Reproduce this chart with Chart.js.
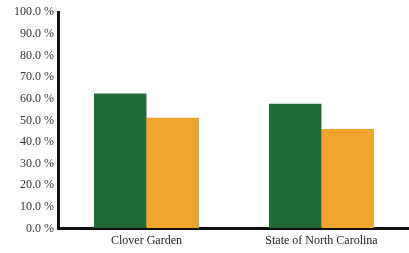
<!DOCTYPE html>
<html>
<head>
<meta charset="utf-8">
<script src="https://cdn.jsdelivr.net/npm/chart.js@4"></script>
<style>
  html, body { margin: 0; padding: 0; background: #fff; }
  #wrap { width: 409px; height: 253px; }
</style>
</head>
<body>
<div id="wrap"><canvas id="chart"></canvas></div>
<script>
// Chart data
var categories = ['Clover Garden', 'State of North Carolina'];
var seriesGreen = [62.4, 57.7];
var seriesOrange = [51.2, 46.0];
var yTicks = [0, 10, 20, 30, 40, 50, 60, 70, 80, 90, 100];

var ctx = document.getElementById('chart').getContext('2d');
var chart = new Chart(ctx, {
    type: 'bar',
    data: {
        labels: categories,
        datasets: [
            {
                label: 'Series 1',
                data: seriesGreen,
                backgroundColor: '#216c36',
                categoryPercentage: 0.6,
                barPercentage: 1.0
            },
            {
                label: 'Series 2',
                data: seriesOrange,
                backgroundColor: '#f1a52f',
                categoryPercentage: 0.6,
                barPercentage: 1.0
            }
        ]
    },
    options: {
        responsive: true,
        maintainAspectRatio: false,
        animation: false,
        layout: { padding: { top: 11, right: 0, left: 9, bottom: 0 } },
        plugins: {
            legend: { display: false },
            tooltip: { enabled: false }
        },
        scales: {
            x: {
                grid: { display: true, drawOnChartArea: false, drawTicks: false, color: 'transparent' },
                border: { display: true, color: '#111', width: 3 },
                ticks: {
                    color: '#222',
                    padding: 5,
                    font: { family: 'Liberation Serif', size: 12 }
                }
            },
            y: {
                min: 0,
                max: 100,
                afterBuildTicks: function (axis) {
                    axis.ticks = yTicks.map(function (v) { return { value: v }; });
                },
                grid: { display: true, drawOnChartArea: false, drawTicks: false, color: 'transparent' },
                border: { display: true, color: '#111', width: 3 },
                ticks: {
                    color: '#333',
                    padding: 5,
                    font: { family: 'Liberation Serif', size: 12 },
                    callback: function (v) { return v.toFixed(1) + ' %'; }
                }
            }
        }
    }
});
</script>
</body>
</html>
